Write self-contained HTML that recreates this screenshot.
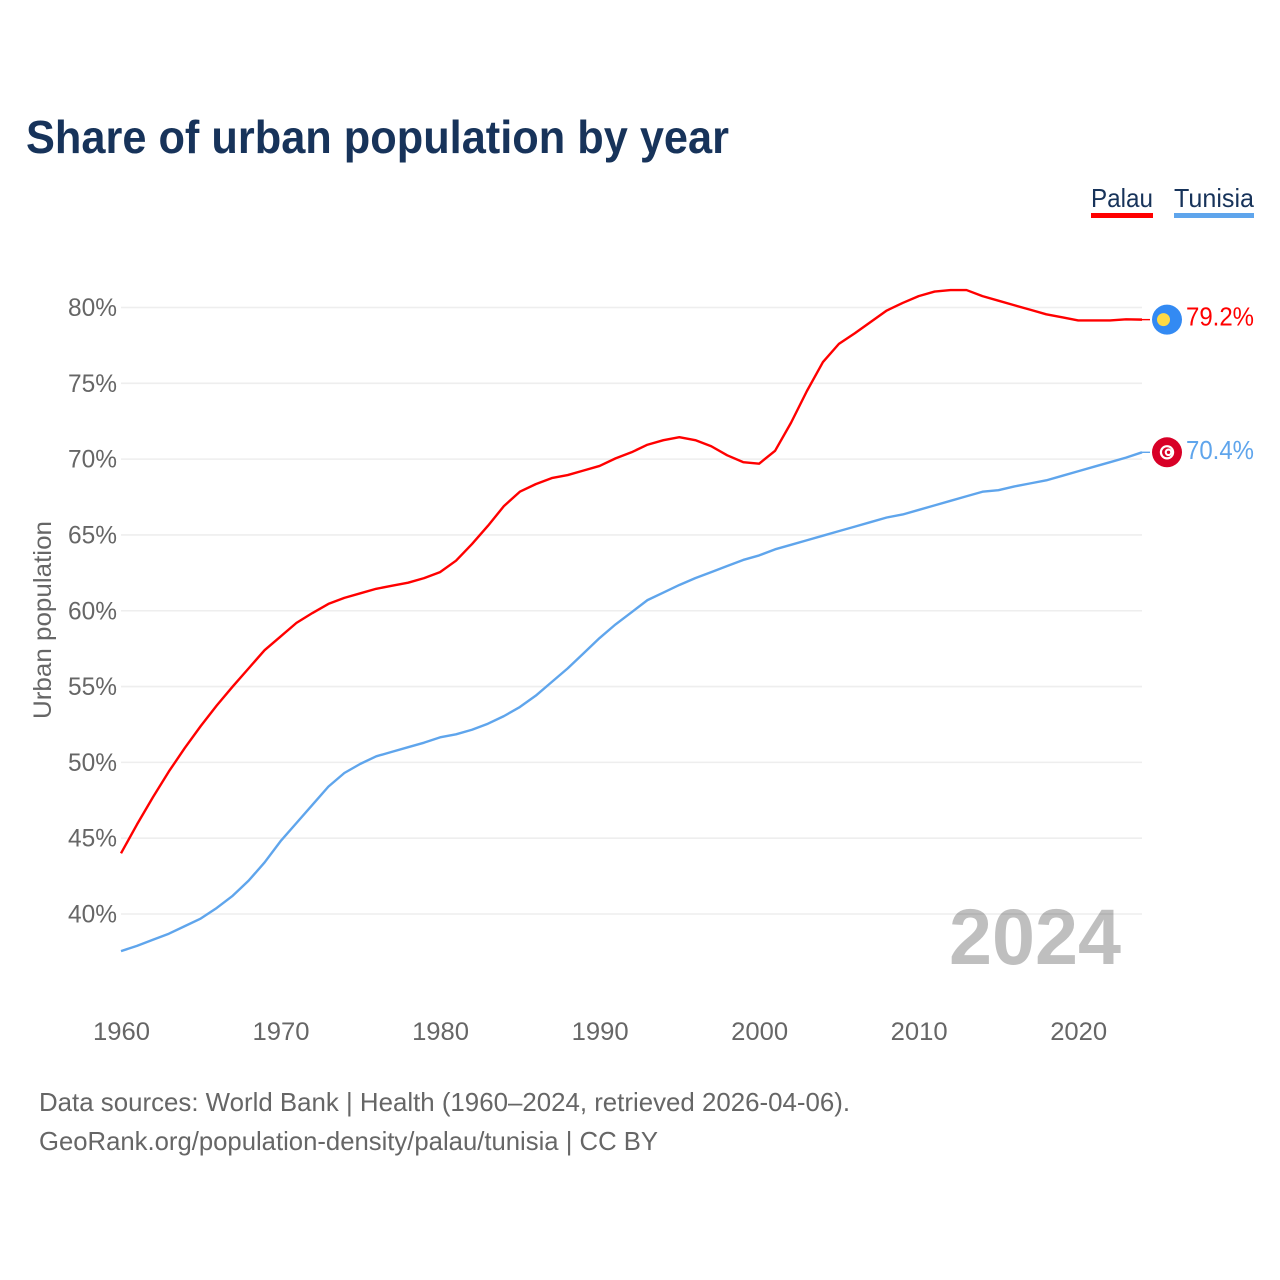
<!DOCTYPE html>
<html lang="en">
<head>
<meta charset="utf-8">
<title>Share of urban population by year</title>
<style>
html,body{margin:0;padding:0;background:#fff;width:1280px;height:1280px;overflow:hidden}
svg{display:block;font-family:"Liberation Sans",sans-serif}
</style>
</head>
<body>
<svg id="chart" xmlns="http://www.w3.org/2000/svg" width="1280" height="1280" viewBox="0 0 1280 1280">
  <rect width="1280" height="1280" fill="#fff"/>
  <text x="26" y="153" font-size="46" font-weight="700" fill="#17335a" textLength="703" lengthAdjust="spacingAndGlyphs">Share of urban population by year</text>

  <g>
    <g>
      <text x="1091" y="207" font-size="26" fill="#17335a" textLength="62" lengthAdjust="spacingAndGlyphs">Palau</text>
      <rect x="1091" y="213" width="62" height="5" fill="#ff0000"/>
    </g>
    <g>
      <text x="1174" y="207" font-size="26" fill="#17335a" textLength="80" lengthAdjust="spacingAndGlyphs">Tunisia</text>
      <rect x="1174" y="213" width="80" height="5" fill="#5fa5ec"/>
    </g>
  </g>

  <g id="grid"></g>
  <g id="yticks"></g>
  <g id="xticks"></g>
  <text transform="translate(51 620) rotate(-90)" text-anchor="middle" font-size="25" fill="#666" textLength="198" lengthAdjust="spacingAndGlyphs">Urban population</text>

  <g id="series"></g>

  <text x="949" y="964" font-size="79" font-weight="700" fill="#000" fill-opacity="0.25" textLength="172" lengthAdjust="spacingAndGlyphs">2024</text>

  <g id="flag-palau"></g>
  <g id="flag-tunisia"></g>
  <g id="end-labels"></g>

  <g>
    <text x="39" y="1111" font-size="26" fill="#666" textLength="811" lengthAdjust="spacingAndGlyphs">Data sources: World Bank | Health (1960–2024, retrieved 2026-04-06).</text>
    <text x="39" y="1150" font-size="26" fill="#666" textLength="619" lengthAdjust="spacingAndGlyphs">GeoRank.org/population-density/palau/tunisia | CC BY</text>
  </g>
</svg>
<script>
const startYear = 1960;
const endYear = 2024;
const yTickValues = [40, 45, 50, 55, 60, 65, 70, 75, 80];
const xTickYears = [1960, 1970, 1980, 1990, 2000, 2010, 2020];
const palauValues = [
  44.0, 45.9, 47.7, 49.4, 50.95, 52.4, 53.75, 55.0, 56.2, 57.4,
  58.3, 59.2, 59.85, 60.45, 60.85, 61.15, 61.45, 61.65, 61.85, 62.15,
  62.55, 63.3, 64.4, 65.6, 66.9, 67.85, 68.35, 68.75, 68.95, 69.25,
  69.55, 70.05, 70.45, 70.95, 71.25, 71.45, 71.25, 70.85, 70.25, 69.8,
  69.7, 70.55, 72.4, 74.5, 76.4, 77.6, 78.3, 79.05, 79.8, 80.3,
  80.75, 81.05, 81.15, 81.15, 80.75, 80.45, 80.15, 79.85, 79.55, 79.35,
  79.15, 79.15, 79.15, 79.22, 79.2
];
const tunisiaValues = [
  37.55, 37.9, 38.3, 38.7, 39.2, 39.7, 40.4, 41.2, 42.2, 43.4,
  44.8, 46.0, 47.2, 48.4, 49.3, 49.9, 50.4, 50.7, 51.0, 51.3,
  51.65, 51.85, 52.15, 52.55, 53.05, 53.65, 54.4, 55.3, 56.2, 57.2,
  58.2, 59.1, 59.9, 60.7, 61.2, 61.7, 62.15, 62.55, 62.95, 63.35,
  63.65, 64.05, 64.35, 64.65, 64.95, 65.25, 65.55, 65.85, 66.15, 66.35,
  66.65, 66.95, 67.25, 67.55, 67.85, 67.95, 68.2, 68.4, 68.6, 68.9,
  69.2, 69.5, 69.8, 70.1, 70.45
];
const palauEndLabel = 79.2;
const tunisiaEndLabel = 70.4;

const NS = 'http://www.w3.org/2000/svg';
const plotLeft = 121;
const plotRight = 1142;
const y80 = 307.5;
const y40 = 914;

function xScale(year) {
  return plotLeft + (year - startYear) * (plotRight - plotLeft) / (endYear - startYear);
}
function yScale(value) {
  return y40 + (value - 40) * (y80 - y40) / 40;
}
function make(tag, attrs, parent) {
  const el = document.createElementNS(NS, tag);
  for (const k in attrs) el.setAttribute(k, attrs[k]);
  parent.appendChild(el);
  return el;
}

const grid = document.getElementById('grid');
const yticks = document.getElementById('yticks');
const xticks = document.getElementById('xticks');
const series = document.getElementById('series');
const endLabels = document.getElementById('end-labels');

yTickValues.forEach(function (v) {
  const line = make('line', {x1: plotLeft, x2: plotRight, y1: yScale(v), y2: yScale(v), stroke: '#eeeeee', 'stroke-width': 1.6}, grid);
  
  
  const t = make('text', {x: 117, y: yScale(v) + 8.5, 'text-anchor': 'end', 'font-size': 25, fill: '#666', textLength: 49, lengthAdjust: 'spacingAndGlyphs'}, yticks);
  t.textContent = v + '%';
  
  
});

xTickYears.forEach(function (yr) {
  const t = make('text', {x: xScale(yr) + 0.5, y: 1040, 'text-anchor': 'middle', 'font-size': 25, fill: '#666', textLength: 57, lengthAdjust: 'spacingAndGlyphs'}, xticks);
  t.textContent = yr;
  
  
});

function drawSeries(values, color, key) {
  const pts = values.map(function (v, i) {
    return xScale(startYear + i).toFixed(2) + ',' + yScale(v).toFixed(2);
  });
  const last = values[values.length - 1];
  const path = make('polyline', {points: pts.join(' '), fill: 'none', stroke: color, 'stroke-width': 2.4, 'stroke-linejoin': 'round'}, series);
  
  
  const tail = make('line', {x1: xScale(endYear), x2: 1150, y1: yScale(last), y2: yScale(last), stroke: color, 'stroke-width': 1.4}, series);
  
  
}
drawSeries(tunisiaValues, '#5fa5ec', 'tunisia');
drawSeries(palauValues, '#ff0000', 'palau');

function drawEndLabel(value, color, key) {
  const t = make('text', {x: 1254, y: yScale(value) + 6, 'text-anchor': 'end', 'font-size': 26, fill: color, textLength: 68, lengthAdjust: 'spacingAndGlyphs'}, endLabels);
  t.textContent = value.toFixed(1) + '%';
  
  
}
drawEndLabel(palauEndLabel, '#ff0000', 'palau');
drawEndLabel(tunisiaEndLabel, '#5fa5ec', 'tunisia');

const flagX = 1167;
const palauY = yScale(palauValues[palauValues.length - 1]);
const tunisiaY = yScale(tunisiaValues[tunisiaValues.length - 1]);
const fp = document.getElementById('flag-palau');
make('circle', {cx: flagX, cy: palauY, r: 15, fill: '#338af3'}, fp);
make('circle', {cx: flagX - 3.5, cy: palauY, r: 6.5, fill: '#ffda44'}, fp);
const ft = document.getElementById('flag-tunisia');
make('circle', {cx: flagX, cy: tunisiaY, r: 15, fill: '#d80027'}, ft);
make('circle', {cx: flagX, cy: tunisiaY, r: 7.2, fill: '#ffffff'}, ft);
make('circle', {cx: flagX, cy: tunisiaY, r: 5, fill: '#d80027'}, ft);
make('circle', {cx: flagX + 1.5, cy: tunisiaY, r: 3.8, fill: '#ffffff'}, ft);
make('circle', {cx: flagX + 1.5, cy: tunisiaY, r: 1.7, fill: '#d80027'}, ft);
</script>
</body>
</html>
